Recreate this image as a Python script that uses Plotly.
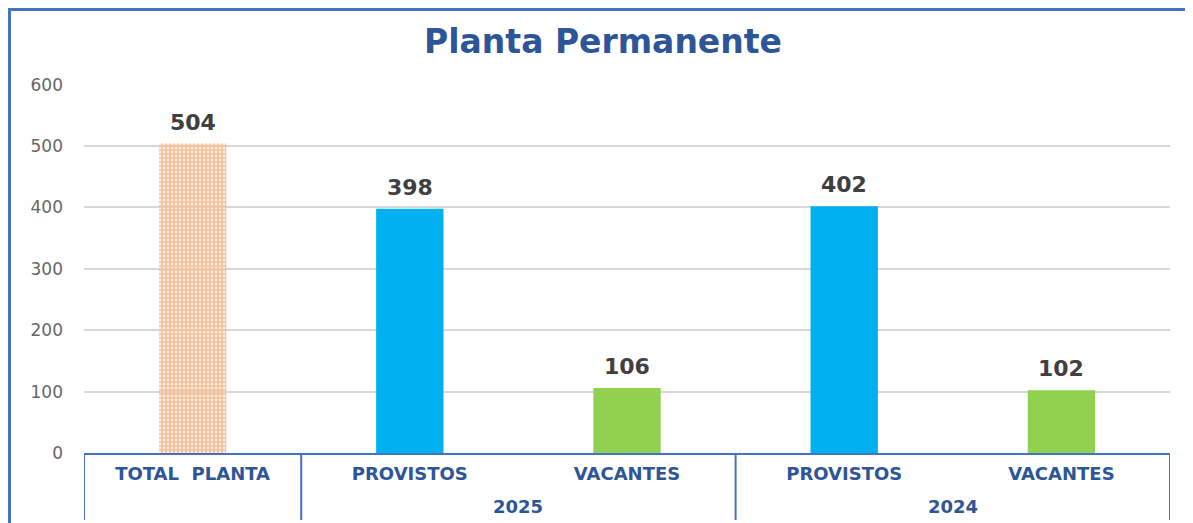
import plotly.graph_objects as go

groups = ["", "2025", "2025", "2024", "2024"]
categories = ["TOTAL  PLANTA", "PROVISTOS", "VACANTES", "PROVISTOS", "VACANTES"]
values = [504, 398, 106, 402, 102]
bar_colors = ["#F6BD96", "#00B0F0", "#92D050", "#00B0F0", "#92D050"]
patterns = [".", "", "", "", ""]
y_ticks = [0, 100, 200, 300, 400, 500, 600]

# page has an 8px body margin; figure fills the rest of the window
OFF = 8
W, H = 1193 - OFF, 523 - OFF
ML, MR, MT, MB = 84 - OFF, 23, 84 - OFF, 70
pw = W - ML - MR
ph = H - MT - MB

xpos = list(range(len(categories)))

fig = go.Figure()
fig.add_trace(go.Bar(
    x=xpos,
    y=values,
    marker=dict(
        color=bar_colors,
        line=dict(width=0),
        pattern=dict(shape=patterns, fgcolor="#F6BD96", bgcolor="#FFFFFF",
                     size=4, solidity=0.7, fillmode="replace"),
    ),
    width=0.31,
    hoverinfo="skip",
))

# value labels above bars
for xi, v in zip(xpos, values):
    fig.add_annotation(x=xi, y=v, xref="x", yref="y", text=f"<b>{v}</b>",
                       showarrow=False, yanchor="bottom", yshift=7,
                       font=dict(family="DejaVu Sans", size=22, color="#404040"))

# group dividers and group labels under the category labels
AXIS_BLUE = "#4472C4"
div_bottom = -(520 - 453) / ph
label_y = -(507 - 453) / ph
bounds = [-0.5]
for i in range(1, len(groups)):
    if groups[i] != groups[i - 1]:
        bounds.append(i - 0.5)
bounds.append(len(groups) - 0.5)
for b in bounds:
    fig.add_shape(type="line", xref="x", yref="paper", x0=b, x1=b, y0=0, y1=div_bottom,
                  line=dict(color=AXIS_BLUE, width=2))
for lo, hi in zip(bounds[:-1], bounds[1:]):
    g = groups[int(lo + 0.5)]
    if g:
        fig.add_annotation(x=(lo + hi) / 2, xref="x", y=label_y, yref="paper",
                           text=f"<b>{g}</b>", showarrow=False, yanchor="middle",
                           font=dict(family="DejaVu Sans", size=18, color="#2E5597"))

# outer chart frame
fig.add_shape(
    type="rect", xref="paper", yref="paper",
    x0=(1.5 - ML) / pw, x1=(W + 20 - ML) / pw,
    y0=-(H + 20 - MT - ph) / ph, y1=1 + (MT - 1.5) / ph,
    line=dict(color=AXIS_BLUE, width=3), layer="below",
)

fig.update_layout(
    width=W, height=H,
    margin=dict(l=ML, r=MR, t=MT, b=MB),
    paper_bgcolor="white", plot_bgcolor="white",
    showlegend=False,
    title=dict(
        text="<b>Planta Permanente</b>",
        x=(603 - OFF) / W, xref="container", xanchor="center",
        y=1 - (41 - OFF) / H, yanchor="middle",
        font=dict(family="DejaVu Sans", size=33, color="#2E5597"),
    ),
    xaxis=dict(
        range=[-0.5, len(categories) - 0.5],
        tickvals=xpos, ticktext=[f"<b>{c}</b>" for c in categories],
        showline=True, linecolor=AXIS_BLUE, linewidth=2,
        tickfont=dict(family="DejaVu Sans", size=18, color="#2E5597"),
        ticklabelstandoff=3,
        showgrid=False, zeroline=False,
        ticks="",
    ),
    yaxis=dict(
        range=[0, 601], tickvals=y_ticks,
        showgrid=True, gridcolor="#D9D9D9", gridwidth=2,
        zeroline=False,
        tickfont=dict(family="DejaVu Sans", size=17, color="#666666"),
        ticklabelstandoff=20,
        showline=False,
    ),
)

fig.write_html("out.html")
